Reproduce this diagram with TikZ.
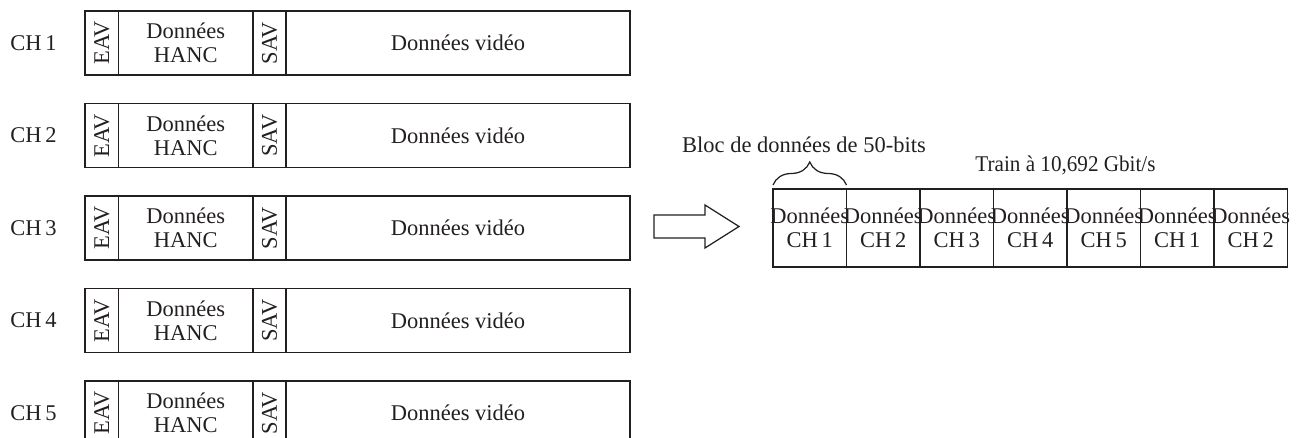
\documentclass[tikz,border=0pt]{standalone}
\usepackage{fontspec}
\setmainfont{Liberation Serif}
\usepackage{graphicx}
\usepackage{xcolor}
\usepackage{tikz}
\usetikzlibrary{decorations.pathreplacing}
\definecolor{ink}{HTML}{231F20}
\newcommand{\lblfont}{\fontsize{12.8}{13.6}\selectfont}
\newcommand{\ovl}[1]{\makebox[0pt]{#1}}
\def\px{0.02cm}
\tikzset{
  fld/.style={draw=ink, line width=1.1pt, minimum height=64*\px, inner sep=0pt,
    outer sep=0pt, anchor=north west, font=\lblfont, text=ink, align=center},
  cell/.style={draw=ink, line width=1.0pt, minimum width=73.5*\px, minimum height=78*\px,
    inner sep=0pt, outer sep=0pt, anchor=north west, font=\lblfont, text=ink, align=center},
  blk/.style={draw=ink, line width=0.7pt, line join=miter},
  brc/.style={draw=ink, line width=0.7pt, decorate, decoration={brace, amplitude=0.46cm}},
  lab/.style={text=ink, font=\lblfont, inner sep=0pt}
}

\begin{document}
\begin{tikzpicture}[x=\px, y=-\px]
  \useasboundingbox (0,0) rectangle (1300,438);

  % five input channels
  \foreach \i in {1,...,5}{
    \pgfmathsetmacro{\yy}{11+(\i-1)*92.5}
    \node[lab] (ch\i) at (33.5,\yy+32) {CH\,\i};
    \node[fld, minimum width=33.5*\px] (eav\i) at (85,\yy) {\rotatebox{90}{EAV}};
    \node[fld, minimum width=134.5*\px] (hanc\i) at (eav\i.north east) {Données\\HANC};
    \node[fld, minimum width=33*\px] (sav\i) at (hanc\i.north east) {\rotatebox{90}{SAV}};
    \node[fld, minimum width=344*\px] (vid\i) at (sav\i.north east) {Données vidéo};
  }

  % hollow arrow
  \draw[blk] (654,215) -- (705,215) -- (705,205) -- (739,226.5) -- (705,248)
    -- (705,238) -- (654,238) -- cycle;

  % output train
  \foreach \k/\c in {1/1,2/2,3/3,4/4,5/5,6/1,7/2}{
    \node[cell] (cell\k) at ({773+(\k-1)*73.5},189) {\ovl{Données}\\\ovl{CH\,\c}};
  }

  \draw[brc] ([yshift=0.08cm]cell1.north west) -- ([yshift=0.08cm]cell1.north east);
  \node[lab] (bloc) at (804,145) {Bloc de données de 50-bits};
  \node[lab, xscale=0.94] (train) at (1065.5,165) {Train à 10,692 Gbit/s};
\end{tikzpicture}
\end{document}
